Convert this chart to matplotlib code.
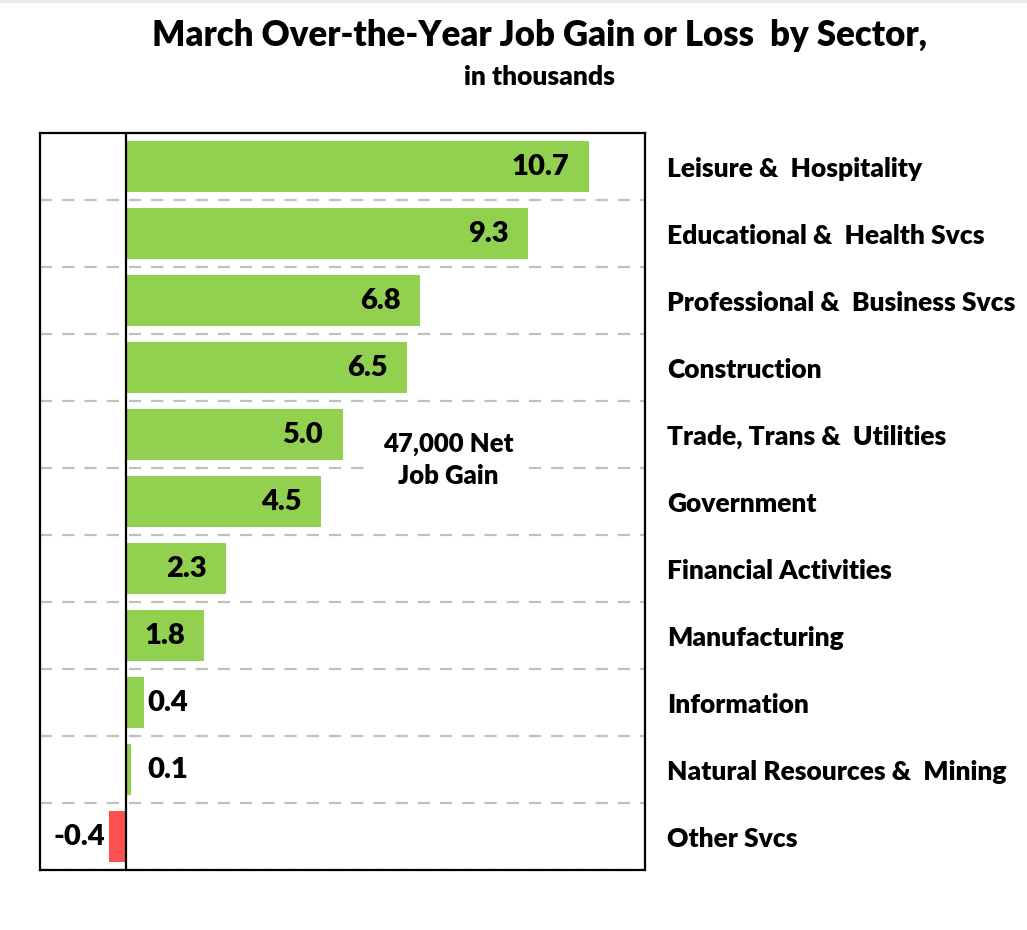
import matplotlib
matplotlib.use("Agg")
import matplotlib.pyplot as plt
from matplotlib.patches import Rectangle

sectors = ["Leisure &  Hospitality", "Educational &  Health Svcs",
           "Professional &  Business Svcs", "Construction",
           "Trade, Trans &  Utilities", "Government", "Financial Activities",
           "Manufacturing", "Information", "Natural Resources &  Mining",
           "Other Svcs"]
values = [10.7, 9.3, 6.8, 6.5, 5.0, 4.5, 2.3, 1.8, 0.4, 0.1, -0.4]
value_labels = ["10.7", "9.3", "6.8", "6.5", "5.0", "4.5", "2.3", "1.8", "0.4", "0.1", "-0.4"]

plt.rcParams['font.family'] = ['Lato', 'DejaVu Sans']
W = "heavy"
plt.rcParams['font.weight'] = W

fig = plt.figure(figsize=(10.27, 9.30), dpi=100)
# light grey strip along the top edge
fig.patches.append(Rectangle((0, 1 - 3/930), 1, 3/930, transform=fig.transFigure,
                             facecolor="#ebebeb", edgecolor="none"))
ax = fig.add_axes([40/1027, 1-870/930, 605/1027, 737/930])

GREEN = "#92D050"
RED = "#FF5050"
ys = list(range(len(values)))
colors = [GREEN if v >= 0 else RED for v in values]
ax.barh(ys, values, height=0.75, color=colors, zorder=2)

ax.set_xlim(-2, 12)
ax.set_ylim(10.5, -0.5)

# dashed gridlines between rows
for k in range(len(values)):
    ax.axhline(k + 0.5, color="#c0c0c0", lw=1.6, ls=(0, (5.5, 4.5)), zorder=1)

ax.axvline(0, color="black", lw=1.6, zorder=3)

VS = 21
for y, v, lab in zip(ys, values, value_labels):
    if v >= 1:
        ax.annotate(lab, (v, y), xytext=(-14, 0), textcoords="offset points",
                    ha="right", va="center", fontsize=VS, fontweight=W, zorder=4)
    elif v >= 0:
        ax.text(0.48, y, lab, ha="left", va="center", fontsize=VS,
                fontweight=W, zorder=4)
    else:
        ax.annotate(lab, (v, y), xytext=(-3, 0), textcoords="offset points",
                    ha="right", va="center", fontsize=VS, fontweight=W, zorder=4)

# annotation box
ax.add_patch(Rectangle((5.66, 3.78), 9.22 - 5.66, 5.46 - 3.78,
                       facecolor="white", edgecolor="none", zorder=1.5))
ax.text(7.44, 4.38, "47,000 Net\nJob Gain", ha="center", va="center",
        fontsize=18.5, fontweight=W, linespacing=1.38, zorder=4)

ax.set_yticks(ys)
ax.set_yticklabels(sectors, fontsize=19, fontweight=W)
ax.yaxis.tick_right()
ax.tick_params(axis="y", length=0, pad=16)
ax.set_xticks([])
for s in ax.spines.values():
    s.set_linewidth(1.6)
    s.set_color("black")

fig.text(540/1027, 1-36/930, "March Over-the-Year Job Gain or Loss  by Sector,",
         ha="center", va="center", fontsize=25, fontweight=W)
fig.text(539/1027, 1-77/930, "in thousands", ha="center", va="center",
         fontsize=19, fontweight=W)

fig.savefig("out.png", dpi=100)
